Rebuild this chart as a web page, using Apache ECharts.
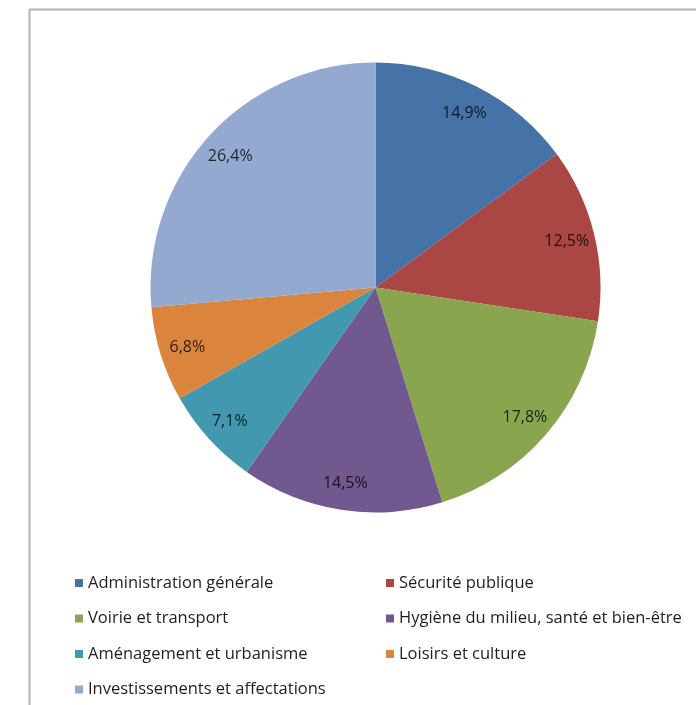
<!DOCTYPE html>
<html><head><meta charset="utf-8">
<script src="https://cdn.jsdelivr.net/npm/echarts@6/dist/echarts.min.js"></script>
<style>html,body{margin:0;padding:0;background:#fff}#c{width:696px;height:705px}</style>
</head><body><div id="c"></div>
<script>
const categories = ["Administration générale","Sécurité publique","Voirie et transport","Hygiène du milieu, santé et bien-être","Aménagement et urbanisme","Loisirs et culture","Investissements et affectations"];
const values = [14.9, 12.5, 17.8, 14.5, 7.1, 6.8, 26.4];
const colors = ["#4572A7","#AA4643","#89A54E","#71588F","#4198AF","#DB843D","#93A9CF"];
const legendLeft = [categories[0], categories[2], categories[4], categories[6]];
const legendRight = [categories[1], categories[3], categories[5]];

const font = "'Open Sans', sans-serif";
const data = categories.map((n,i)=>({name:n, value:values[i], itemStyle:{color:colors[i]}}));
const fmt = p => p.value.toFixed(1).replace('.', ',') + '%';
const chart = echarts.init(document.getElementById('c'), null, {renderer:'canvas'});
const legendCommon = {
  orient:'vertical', icon:'rect', itemWidth:8, itemHeight:8, itemGap:17.5,
  textStyle:{fontFamily:font, fontSize:16.5, color:'#1e1e1e', lineHeight:18, padding:[0,0,0,0]},
  selectedMode:false
};
chart.setOption({
  animation:false,
  backgroundColor:'#fff',
  graphic:[{type:'rect', shape:{x:29.5, y:9.5, width:700, height:720}, style:{fill:'none', stroke:'#b3b3b3', lineWidth:2}}],
  legend:[
    Object.assign({left:70, top:569, data:legendLeft}, legendCommon),
    Object.assign({left:381, top:569, data:legendRight}, legendCommon)
  ],
  series:[
    {type:'pie', center:[375.5,287.5], radius:[0,225], startAngle:90, clockwise:true,
     data:data, label:{show:false}, labelLine:{show:false}, silent:true},
    {type:'pie', center:[375.5,289], radius:[162,226], startAngle:90, clockwise:true,
     data:categories.map((n,i)=>({name:n, value:values[i], itemStyle:{color:'rgba(0,0,0,0)'}})),
     label:{show:true, position:'inside', formatter:fmt, fontFamily:font, fontSize:16, color:'rgba(0,0,0,0.78)'},
     labelLine:{show:false}, silent:true, legendHoverLink:false}
  ]
});
</script></body></html>
